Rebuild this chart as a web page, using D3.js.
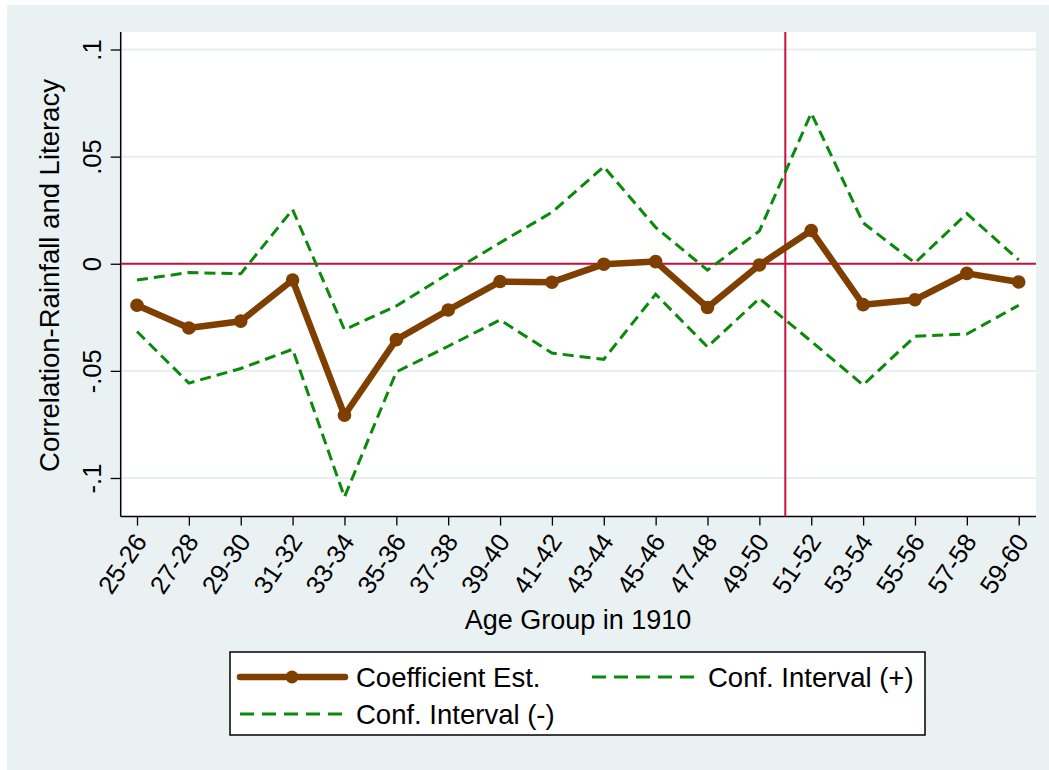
<!DOCTYPE html>
<html>
<head>
<meta charset="utf-8">
<script src="https://cdn.jsdelivr.net/npm/d3@7"></script>
<style>
  html, body { margin: 0; padding: 0; background: #ffffff; }
  svg text { font-family: "Liberation Sans", Arial, sans-serif; fill: #000; }
</style>
</head>
<body>
<svg id="chart" width="1049" height="770"></svg>
<script>
// Age cohorts (in 1910) and the estimated rainfall/literacy correlation
const ageGroups = ["25-26", "27-28", "29-30", "31-32", "33-34", "35-36", "37-38", "39-40", "41-42",
                   "43-44", "45-46", "47-48", "49-50", "51-52", "53-54", "55-56", "57-58", "59-60"];
const coefEst   = [-0.0194, -0.0300, -0.0268, -0.0076, -0.0707, -0.0354, -0.0216, -0.0083, -0.0086,
                   -0.0002,  0.0010, -0.0204, -0.0006,  0.0155, -0.0191, -0.0168, -0.0045, -0.0085];
const ciUpper   = [-0.0076, -0.0041, -0.0047,  0.0253, -0.0308, -0.0197, -0.0047,  0.0098,  0.0240,
                    0.0453,  0.0170, -0.0030,  0.0153,  0.0703,  0.0191,  0.0004,  0.0234,  0.0018];
const ciLower   = [-0.0316, -0.0557, -0.0489, -0.0399, -0.1089, -0.0505, -0.0385, -0.0262, -0.0417,
                   -0.0446, -0.0142, -0.0388, -0.0162, -0.0362, -0.0566, -0.0339, -0.0328, -0.0194];
const yTicks    = [-0.1, -0.05, 0, 0.05, 0.1];
const yTickText = ["-.1", "-.05", "0", ".05", ".1"];
const cutoffPosition = 12.5;   // vertical reference line between 49-50 and 51-52

const W = 1049, H = 770;
const plot = { left: 120.7, right: 1036, top: 32, bottom: 516.6 };

const COLORS = {
  background: "#eaf1f3",
  grid: "#e6eef1",
  coef: "#7f3f00",
  ci: "#0a8a0a",
  ref: "#c8103c"
};

const svg = d3.select("#chart");

// outer graph region
svg.append("rect").attr("x", 7).attr("y", 5).attr("width", W - 7).attr("height", H - 5)
  .attr("fill", COLORS.background);

// plot region
svg.append("rect")
  .attr("x", plot.left).attr("y", plot.top)
  .attr("width", plot.right - plot.left).attr("height", plot.bottom - plot.top)
  .attr("fill", "#ffffff");

const x = d3.scaleLinear().domain([0, ageGroups.length - 1]).range([137, 1018.7]);
const y = d3.scaleLinear().domain([-0.1, 0.1]).range([478, 49.5]);

// horizontal grid lines
svg.append("g").selectAll("line").data(yTicks).join("line")
  .attr("x1", plot.left).attr("x2", plot.right)
  .attr("y1", d => y(d)).attr("y2", d => y(d))
  .attr("stroke", COLORS.grid).attr("stroke-width", 2);

// y axis
const yAxis = d3.axisLeft(y).tickValues(yTicks)
  .tickFormat((d, i) => yTickText[i]).tickSize(10).tickPadding(0);
const gy = svg.append("g").attr("transform", `translate(${plot.left},0)`).call(yAxis);
gy.select(".domain").attr("d", `M0,${plot.top}V${plot.bottom}`).attr("stroke", "#000").attr("stroke-width", 1.5);
gy.selectAll(".tick line").attr("stroke", "#000").attr("stroke-width", 1.3);
gy.selectAll(".tick text")
  .attr("x", 0).attr("dy", 0)
  .attr("transform", "translate(-20,0) rotate(-90)")
  .attr("text-anchor", "middle")
  .style("font-size", "25.5px");

// x axis
const xAxis = d3.axisBottom(x).tickValues(d3.range(ageGroups.length))
  .tickFormat(i => ageGroups[i]).tickSize(9).tickPadding(0);
const gx = svg.append("g").attr("transform", `translate(0,${plot.bottom})`).call(xAxis);
gx.select(".domain").attr("d", `M${plot.left},0H${plot.right}`).attr("stroke", "#000").attr("stroke-width", 1.5);
gx.selectAll(".tick line").attr("stroke", "#000").attr("stroke-width", 1.3);
gx.selectAll(".tick text")
  .attr("y", 0).attr("dy", "0.35em")
  .attr("transform", "translate(3,20) rotate(-56)")
  .attr("text-anchor", "end")
  .style("font-size", "25.5px");

// reference lines
svg.append("line")
  .attr("x1", plot.left).attr("x2", plot.right)
  .attr("y1", y(0)).attr("y2", y(0))
  .attr("stroke", COLORS.ref).attr("stroke-width", 2);
svg.append("line")
  .attr("x1", x(cutoffPosition)).attr("x2", x(cutoffPosition))
  .attr("y1", plot.top).attr("y2", plot.bottom)
  .attr("stroke", COLORS.ref).attr("stroke-width", 2);

const line = d3.line().x((d, i) => x(i)).y(d => y(d));

// confidence bands
[ciUpper, ciLower].forEach(series => {
  svg.append("path").datum(series)
    .attr("d", line)
    .attr("fill", "none")
    .attr("stroke", COLORS.ci)
    .attr("stroke-width", 3)
    .attr("stroke-dasharray", "11,6");
});

// coefficient estimates
svg.append("path").datum(coefEst)
  .attr("d", line)
  .attr("fill", "none")
  .attr("stroke", COLORS.coef)
  .attr("stroke-width", 6.5)
  .attr("stroke-linejoin", "round");
svg.append("g").selectAll("circle").data(coefEst).join("circle")
  .attr("cx", (d, i) => x(i)).attr("cy", d => y(d)).attr("r", 6.8)
  .attr("fill", COLORS.coef);

// axis titles
svg.append("text")
  .attr("transform", "translate(59,275.5) rotate(-90)")
  .attr("text-anchor", "middle")
  .style("font-size", "27.5px")
  .text("Correlation-Rainfall and Literacy");
svg.append("text")
  .attr("x", 578).attr("y", 629)
  .attr("text-anchor", "middle")
  .style("font-size", "27px")
  .text("Age Group in 1910");

// legend
const legend = svg.append("g");
legend.append("rect")
  .attr("x", 230).attr("y", 652).attr("width", 695).attr("height", 83)
  .attr("fill", "#ffffff").attr("stroke", "#000").attr("stroke-width", 1.5);

const legendItems = [
  { label: "Coefficient Est.",    type: "coef", x: 240, y: 677 },
  { label: "Conf. Interval (+)",  type: "ci",   x: 592, y: 677 },
  { label: "Conf. Interval (-)",  type: "ci",   x: 240, y: 714 }
];
legendItems.forEach(item => {
  if (item.type === "coef") {
    legend.append("line")
      .attr("x1", item.x).attr("x2", item.x + 105)
      .attr("y1", item.y).attr("y2", item.y)
      .attr("stroke", COLORS.coef).attr("stroke-width", 6.5).attr("stroke-linecap", "round");
    legend.append("circle")
      .attr("cx", item.x + 52).attr("cy", item.y).attr("r", 6.5)
      .attr("fill", COLORS.coef);
  } else {
    legend.append("line")
      .attr("x1", item.x).attr("x2", item.x + 105)
      .attr("y1", item.y).attr("y2", item.y)
      .attr("stroke", COLORS.ci).attr("stroke-width", 3)
      .attr("stroke-dasharray", "14,8");
  }
  legend.append("text")
    .attr("x", item.x + 116).attr("y", item.y).attr("dy", "0.35em")
    .style("font-size", "27.5px")
    .text(item.label);
});
</script>
</body>
</html>
